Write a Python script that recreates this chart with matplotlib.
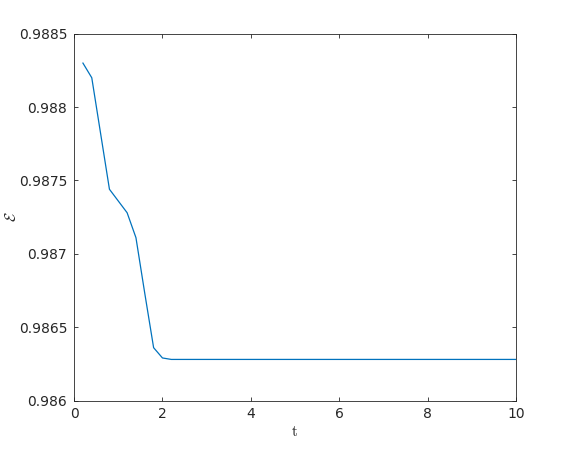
import matplotlib
matplotlib.use("Agg")
import matplotlib.pyplot as plt

t = [0.2, 0.4, 0.6, 0.8, 1.0, 1.2, 1.4, 1.6, 1.8, 2.0, 2.2, 10.0]
energy = [0.98830, 0.98820, 0.98782, 0.98744, 0.98736, 0.98728, 0.98711,
          0.98673, 0.98636, 0.98629, 0.98628, 0.98628]
xticks = [0, 2, 4, 6, 8, 10]
yticks = [0.986, 0.9865, 0.987, 0.9875, 0.988, 0.9885]
yticklabels = ["0.986", "0.9865", "0.987", "0.9875", "0.988", "0.9885"]

plt.rcParams['mathtext.fontset'] = 'cm'
fig = plt.figure(figsize=(5.7, 4.5), dpi=100)
ax = fig.add_axes([0.13, 0.11, 0.775, 0.815])
ax.plot(t, energy, color='#0072BD', lw=0.9)
ax.set_xlim(0, 10)
ax.set_ylim(0.986, 0.9885)
ax.set_xticks(xticks)
ax.set_xticklabels([str(v) for v in xticks])
ax.set_yticks(yticks)
ax.set_yticklabels(yticklabels)
ax.tick_params(direction='in', length=3.2, width=0.6, top=True, right=True,
               labelsize=10, labelcolor='#262626', color='#262626', pad=5)
for s in ax.spines.values():
    s.set_linewidth(0.6)
    s.set_color('#262626')
ax.set_xlabel(r'$\mathrm{t}$', fontsize=11, color='#262626')
ax.set_ylabel(r'$\mathcal{E}$', fontsize=11, color='#262626')
ax.xaxis.set_label_coords(0.5, -0.085)
ax.xaxis.label.set_va('center')
ax.yaxis.set_label_coords(-0.142, 0.5)
ax.yaxis.label.set_va('center')
fig.savefig('out.png', dpi=100)
